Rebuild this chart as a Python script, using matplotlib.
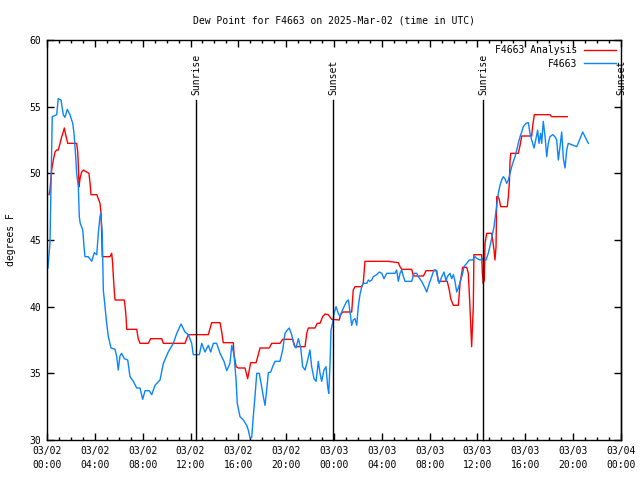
import matplotlib
matplotlib.use("Agg")
import matplotlib.pyplot as plt
from matplotlib.ticker import MultipleLocator


# hours since 03/02 00:00 UTC, dew point in degrees F
obs_hours = [
    0.08, 0.25, 0.33, 0.44, 0.81, 0.94, 1.17, 1.36, 1.50, 1.70, 1.92, 2.15,
    2.26, 2.40, 2.48, 2.62, 2.70, 2.78, 2.99, 3.12, 3.18, 3.45, 3.74, 3.96,
    4.16, 4.29, 4.43, 4.50, 4.62, 4.71, 4.85, 4.99, 5.13, 5.35, 5.69, 5.83,
    5.96, 6.10, 6.24, 6.46, 6.75, 6.94, 7.22, 7.50, 7.78, 8.00, 8.20, 8.55,
    8.76, 9.03, 9.45, 9.73, 10.14, 10.56, 10.85, 11.21, 11.54, 11.82, 12.10,
    12.23, 12.74, 12.94, 13.21, 13.49, 13.69, 13.91, 14.19, 14.47, 14.80,
    15.03, 15.30, 15.45, 15.64, 15.81, 15.91, 16.14, 16.42, 16.70, 16.83,
    16.98, 17.12, 17.25, 17.39, 17.54, 17.75, 17.95, 18.09, 18.23, 18.37,
    18.51, 18.71, 18.87, 19.07, 19.48, 19.71, 19.90, 20.10, 20.26, 20.46,
    20.66, 20.82, 21.02, 21.22, 21.38, 21.58, 21.77, 21.99, 22.13, 22.33,
    22.50, 22.69, 22.83, 22.97, 23.16, 23.33, 23.47, 23.56, 23.67, 23.75,
    23.94, 24.00, 24.17, 24.36, 24.50, 24.64, 24.84, 25.06, 25.20, 25.34,
    25.48, 25.61, 25.76, 25.90, 26.03, 26.17, 26.32, 26.45, 26.74, 26.87,
    27.01, 27.15, 27.29, 27.57, 27.79, 27.99, 28.18, 28.41, 29.10, 29.24,
    29.38, 29.52, 29.66, 29.80, 29.94, 30.50, 30.69, 30.92, 31.05, 31.33,
    31.61, 31.75, 31.97, 32.17, 32.36, 32.53, 32.72, 32.80, 33.01, 33.20,
    33.37, 33.47, 33.70, 33.84, 33.98, 34.12, 34.26, 34.40, 34.60, 34.76,
    34.87, 35.10, 35.32, 35.60, 35.79, 35.98, 36.21, 36.40, 36.63, 36.71,
    36.90, 37.10, 37.27, 37.38, 37.52, 37.61, 37.74, 37.88, 38.02, 38.16,
    38.29, 38.44, 38.58, 38.72, 38.86, 39.00, 39.14, 39.28, 39.41, 39.56,
    39.70, 39.83, 40.06, 40.25, 40.39, 40.53, 40.73, 40.87, 41.03, 41.14,
    41.28, 41.37, 41.50, 41.65, 41.79, 41.92, 42.06, 42.29, 42.48, 42.62,
    42.76, 42.90, 43.04, 43.18, 43.32, 43.46, 43.59, 44.01, 44.30, 44.57,
    44.80, 45.07, 45.27,
]
obs_dewpt = [
    42.9, 44.8, 48.75, 54.25, 54.4, 55.6, 55.5, 54.4, 54.2, 54.8, 54.4, 53.75,
    53.0, 51.25, 50.0, 49.0, 46.75, 46.25, 45.75, 44.25, 43.75, 43.75, 43.4, 44.05,
    43.9, 45.5, 46.75, 47.0, 45.5, 41.25, 40.0, 38.75, 37.75, 36.9, 36.8, 36.25,
    35.25, 36.3, 36.5, 36.1, 36.0, 34.75, 34.4, 33.9, 33.9, 33.05, 33.7, 33.7,
    33.4, 34.1, 34.5, 35.75, 36.6, 37.25, 38.0, 38.7, 38.1, 37.9, 37.25,
    36.4, 36.4, 37.25, 36.6, 37.1, 36.6, 37.25, 37.25, 36.5, 35.9,
    35.2, 35.75, 37.1, 36.4, 34.5, 32.75, 31.75, 31.5, 31.1, 30.75,
    30.15, 30.2, 31.75, 33.25, 35.0, 35.0, 34.0, 33.25, 32.6, 33.75,
    35.05, 35.1, 35.5, 35.9, 35.9, 36.75, 38.0, 38.25, 38.4, 37.9,
    37.1, 36.9, 37.6, 36.9, 35.5, 35.25, 35.9, 36.75, 35.5, 34.6,
    34.4, 35.9, 35.0, 34.4, 35.25, 35.5, 34.0, 33.5, 35.75, 38.25,
    39.0, 39.5, 40.0, 39.5, 39.25, 39.6, 40.0, 40.4, 40.5, 39.6,
    38.6, 39.0, 39.1, 38.6, 40.0, 40.9, 41.5, 41.75, 41.75, 42.0,
    41.9, 42.0, 42.25, 42.4, 42.6, 42.5, 42.1, 42.5, 42.5, 42.75,
    41.9, 42.5, 42.75, 42.25, 41.9, 41.9, 42.5, 42.5, 42.25, 41.9,
    41.4, 41.1, 41.75, 42.25, 42.75, 42.75, 42.0, 41.75, 42.25, 42.6,
    41.9, 42.25, 42.5, 42.1, 42.4, 41.9, 41.1, 41.4, 42.0, 42.5,
    43.0, 43.25, 43.5, 43.5, 43.75, 43.6, 43.5, 43.6, 43.5, 43.5,
    44.0, 44.75, 45.5, 46.0, 47.0, 47.6, 48.5, 49.1, 49.5, 49.75,
    49.6, 49.25, 49.5, 50.0, 50.5, 50.9, 51.25, 51.75, 52.25, 52.75,
    53.1, 53.5, 53.75, 53.8, 53.0, 52.5, 51.9, 52.5, 53.25, 52.25,
    53.0, 52.25, 53.9, 52.75, 51.25, 52.25, 52.75, 52.9, 52.75, 52.5,
    51.0, 52.0, 53.1, 51.1, 50.4, 51.75, 52.25, 52.1, 52.0, 52.6,
    53.1, 52.6, 52.25,
]

ana_hours = [
    0.17, 0.25, 0.39, 0.53, 0.67, 0.81, 0.94, 1.09, 1.23, 1.36, 1.45, 1.56,
    1.73, 2.48, 2.57, 2.62, 2.68, 2.76, 2.90, 3.04, 3.32, 3.51, 3.60, 3.68,
    4.16, 4.29, 4.43, 4.52, 4.57, 4.62, 5.27, 5.41, 5.49, 5.54, 5.63, 5.69,
    6.46, 6.52, 6.61, 6.67, 7.50, 7.63, 7.78, 8.47, 8.67, 9.59, 9.73, 11.54,
    11.68, 11.82, 13.49, 13.77, 14.47, 14.61, 14.74, 15.58, 15.64, 15.81,
    16.00, 16.56, 16.70, 16.78, 16.92, 17.03, 17.48, 17.67, 17.81, 18.59,
    18.79, 19.48, 19.71, 20.55, 20.74, 21.58, 21.72, 21.85, 22.41, 22.60,
    22.83, 23.05, 23.25, 23.52, 23.81, 24.44, 24.56, 24.73, 25.48, 25.61,
    25.76, 26.32, 26.45, 26.59, 28.54, 29.38, 29.52, 29.66, 30.50, 30.64,
    31.48, 31.70, 32.59, 32.72, 33.47, 33.64, 33.76, 33.98, 34.40, 34.54,
    34.76, 35.10, 35.23, 35.37, 35.51, 35.65, 35.70, 36.35, 36.40, 36.48,
    36.57, 36.63, 36.77, 37.19, 37.27, 37.38, 37.46, 37.55, 37.61, 37.74,
    37.83, 37.94, 38.49, 38.58, 38.67, 38.72, 38.78, 39.41, 39.56, 39.70,
    40.53, 40.62, 40.75, 42.06, 42.20, 43.51,
]
ana_dewpt = [
    48.4, 48.75, 50.25, 51.0, 51.6, 51.75, 51.75, 52.25, 52.75, 53.1, 53.4, 52.9,
    52.25, 52.25, 51.6, 50.6, 49.0, 49.6, 50.1, 50.25, 50.1, 50.0, 49.25, 48.4,
    48.4, 48.1, 47.75, 47.0, 45.6, 43.75, 43.75, 44.0, 43.25, 42.4, 41.1, 40.5,
    40.5, 40.1, 39.25, 38.3, 38.3, 37.6, 37.25, 37.25, 37.6, 37.6, 37.25, 37.25,
    37.6, 37.9, 37.9, 38.8, 38.8, 38.1, 37.3, 37.3, 36.4, 35.5,
    35.4, 35.4, 34.9, 34.6, 35.25, 35.8, 35.8, 36.4, 36.9, 36.9,
    37.25, 37.25, 37.55, 37.55, 37.0, 37.0, 38.0, 38.4, 38.4, 38.75,
    38.75, 39.25, 39.45, 39.4, 39.05, 39.0, 39.4, 39.6, 39.6, 41.25,
    41.5, 41.5, 41.8, 43.4, 43.4, 43.3, 43.0, 42.8, 42.8, 42.3,
    42.3, 42.7, 42.7, 41.9, 41.9, 41.25, 40.6, 40.1, 40.1, 41.75,
    42.95, 42.95, 42.5, 40.0, 37.0, 40.0, 43.9, 43.9, 42.6, 41.75,
    42.0, 44.75, 45.5, 45.5, 45.0, 44.25, 43.5, 44.5, 48.25, 48.25,
    48.0, 47.5, 47.5, 48.25, 49.4, 50.9, 51.5, 51.5, 52.1, 52.8,
    52.8, 53.6, 54.4, 54.4, 54.25, 54.25,
]

sun_events = ["Sunrise", "Sunset", "Sunrise", "Sunset"]
sun_hours = [12.46, 23.94, 36.48, 48.0]

x_ticks = [0, 4, 8, 12, 16, 20, 24, 28, 32, 36, 40, 44, 48]
x_labels = [
    "03/02\n00:00", "03/02\n04:00", "03/02\n08:00", "03/02\n12:00",
    "03/02\n16:00", "03/02\n20:00", "03/03\n00:00", "03/03\n04:00",
    "03/03\n08:00", "03/03\n12:00", "03/03\n16:00", "03/03\n20:00",
    "03/04\n00:00",
]

FONT = "DejaVu Sans Mono"
plt.rcParams["font.family"] = FONT
plt.rcParams["font.size"] = 7

fig = plt.figure(figsize=(6.4, 4.8), dpi=100)
ax = fig.add_axes([47 / 640, 40 / 480, 574 / 640, 400 / 480])

ax.plot(ana_hours, ana_dewpt, color="#ff0000", lw=1, label="F4663 Analysis")
ax.plot(obs_hours, obs_dewpt, color="#0a84ff", lw=1, label="F4663")

for name, h in zip(sun_events, sun_hours):
    ax.plot([h, h], [30, 55.5], color="black", lw=1, clip_on=False)
    ax.text(h, 55.9, name, rotation=90, ha="center", va="bottom", fontsize=7)

ax.set_xlim(0, 48)
ax.set_ylim(30, 60)
ax.set_xticks(x_ticks)
ax.set_xticklabels(x_labels, linespacing=1.5)
ax.xaxis.set_minor_locator(MultipleLocator(1))
ax.yaxis.set_major_locator(MultipleLocator(5))

ax.tick_params(which="both", direction="in", top=True, right=True, width=1)
ax.tick_params(which="major", length=5, pad=4)
ax.tick_params(which="minor", length=2.5)
for s in ax.spines.values():
    s.set_linewidth(1)

ax.set_ylabel("degrees F", labelpad=10)
ax.set_title("Dew Point for F4663 on 2025-Mar-02 (time in UTC)", pad=12, fontsize=7)

leg = ax.legend(loc="upper right", frameon=False, markerfirst=False,
                handlelength=3.3, handletextpad=0.6, borderaxespad=0.15,
                labelspacing=0.35, fontsize=7)

fig.savefig("out.png", dpi=100)
